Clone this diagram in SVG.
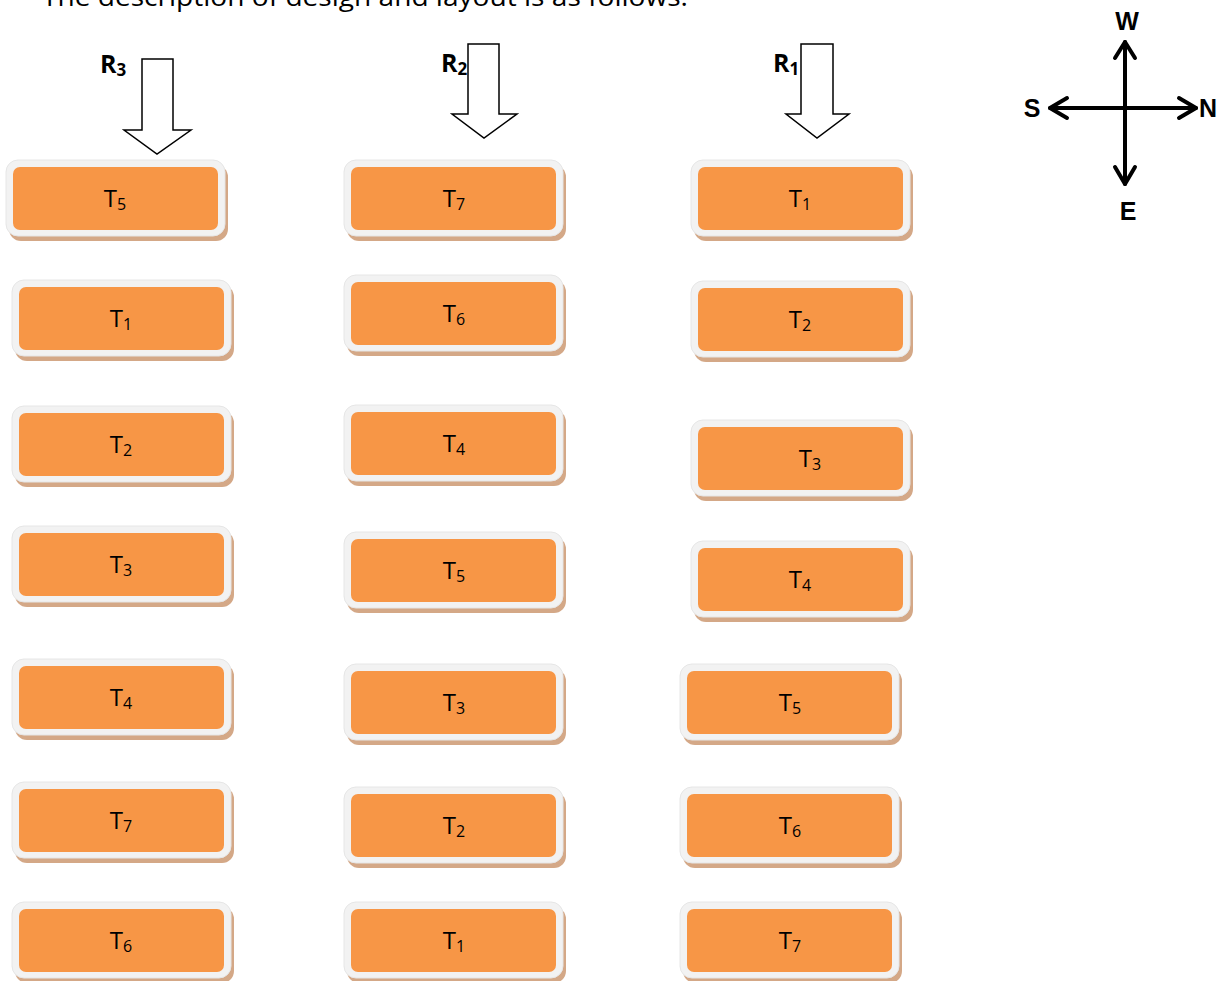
<svg xmlns="http://www.w3.org/2000/svg" width="1226" height="981" viewBox="0 0 1226 981">
<defs>
<style>
.sh{fill:#d4a887}
.out{fill:#f2f2f2;stroke:#e6e6e6;stroke-width:1}
.in{fill:#f79646}
.lbl{font-family:"Open Sans","Liberation Sans",sans-serif;font-size:24px;fill:#000;text-anchor:middle}
.sub{font-size:16px}
.blk{fill:#fff;stroke:#000;stroke-width:1.5;stroke-linejoin:miter}
.rl{font-family:"Open Sans","Liberation Sans",sans-serif;font-weight:bold;font-size:25px;fill:#000}
.rs{font-size:17px}
.cp{fill:none;stroke:#000;stroke-width:4;stroke-linecap:round;stroke-linejoin:round}
.cl{font-family:"Liberation Sans",Arial,sans-serif;font-weight:bold;font-size:25px;fill:#000;text-anchor:middle}
</style>
</defs>
<rect width="1226" height="981" fill="#fff"/>
<text x="42" y="6" font-family="'Open Sans','Liberation Sans',sans-serif" font-size="26" fill="#000" textLength="646" lengthAdjust="spacingAndGlyphs">The description of design and layout is as follows:</text>

<g id="connectors">
<polygon class="blk" points="142,59 173,59 173,130 191,130 157,154 124,130 142,130"/>
<polygon class="blk" points="468,44 499,44 499,114 517,114 484,138 452,114 468,114"/>
<polygon class="blk" points="801,44 833,44 833,114 849,114 817,138 786,114 801,114"/>
</g>
<g id="labels-r">
<text class="rl" x="100" y="73">R<tspan class="rs" dy="3">3</tspan></text>
<text class="rl" x="441" y="72">R<tspan class="rs" dy="3">2</tspan></text>
<text class="rl" x="773" y="72">R<tspan class="rs" dy="3">1</tspan></text>
</g>

<g id="compass">
<path class="cp" d="M1125,42 V184 M1050,108 H1196"/>
<path class="cp" d="M1115,58 L1125,42 L1135,58 M1115,167 L1125,184 L1135,167 M1067,98 L1050,108 L1067,118 M1179,98 L1196,108 L1179,118"/>
<text class="cl" x="1127" y="30">W</text>
<text class="cl" x="1032" y="117">S</text>
<text class="cl" x="1208" y="117">N</text>
<text class="cl" x="1128" y="220">E</text>
</g>

<g id="c1r1"><rect class="sh" x="9" y="165" width="219" height="76" rx="12"/><rect class="out" x="6" y="160" width="219" height="76" rx="12"/><rect class="in" x="13" y="167" width="205" height="63" rx="7"/><text class="lbl" x="115" y="207">T<tspan class="sub" dy="3">5</tspan></text></g>
<g id="c1r2"><rect class="sh" x="15" y="285" width="219" height="76" rx="12"/><rect class="out" x="12" y="280" width="219" height="76" rx="12"/><rect class="in" x="19" y="287" width="205" height="63" rx="7"/><text class="lbl" x="121" y="327">T<tspan class="sub" dy="3">1</tspan></text></g>
<g id="c1r3"><rect class="sh" x="15" y="411" width="219" height="76" rx="12"/><rect class="out" x="12" y="406" width="219" height="76" rx="12"/><rect class="in" x="19" y="413" width="205" height="63" rx="7"/><text class="lbl" x="121" y="453">T<tspan class="sub" dy="3">2</tspan></text></g>
<g id="c1r4"><rect class="sh" x="15" y="531" width="219" height="76" rx="12"/><rect class="out" x="12" y="526" width="219" height="76" rx="12"/><rect class="in" x="19" y="533" width="205" height="63" rx="7"/><text class="lbl" x="121" y="573">T<tspan class="sub" dy="3">3</tspan></text></g>
<g id="c1r5"><rect class="sh" x="15" y="664" width="219" height="76" rx="12"/><rect class="out" x="12" y="659" width="219" height="76" rx="12"/><rect class="in" x="19" y="666" width="205" height="63" rx="7"/><text class="lbl" x="121" y="706">T<tspan class="sub" dy="3">4</tspan></text></g>
<g id="c1r6"><rect class="sh" x="15" y="787" width="219" height="76" rx="12"/><rect class="out" x="12" y="782" width="219" height="76" rx="12"/><rect class="in" x="19" y="789" width="205" height="63" rx="7"/><text class="lbl" x="121" y="829">T<tspan class="sub" dy="3">7</tspan></text></g>
<g id="c1r7"><rect class="sh" x="15" y="907" width="219" height="76" rx="12"/><rect class="out" x="12" y="902" width="219" height="76" rx="12"/><rect class="in" x="19" y="909" width="205" height="63" rx="7"/><text class="lbl" x="121" y="949">T<tspan class="sub" dy="3">6</tspan></text></g>

<g id="c2r1"><rect class="sh" x="347" y="165" width="219" height="76" rx="12"/><rect class="out" x="344" y="160" width="219" height="76" rx="12"/><rect class="in" x="351" y="167" width="205" height="63" rx="7"/><text class="lbl" x="454" y="207">T<tspan class="sub" dy="3">7</tspan></text></g>
<g id="c2r2"><rect class="sh" x="347" y="280" width="219" height="76" rx="12"/><rect class="out" x="344" y="275" width="219" height="76" rx="12"/><rect class="in" x="351" y="282" width="205" height="63" rx="7"/><text class="lbl" x="454" y="322">T<tspan class="sub" dy="3">6</tspan></text></g>
<g id="c2r3"><rect class="sh" x="347" y="410" width="219" height="76" rx="12"/><rect class="out" x="344" y="405" width="219" height="76" rx="12"/><rect class="in" x="351" y="412" width="205" height="63" rx="7"/><text class="lbl" x="454" y="452">T<tspan class="sub" dy="3">4</tspan></text></g>
<g id="c2r4"><rect class="sh" x="347" y="537" width="219" height="76" rx="12"/><rect class="out" x="344" y="532" width="219" height="76" rx="12"/><rect class="in" x="351" y="539" width="205" height="63" rx="7"/><text class="lbl" x="454" y="579">T<tspan class="sub" dy="3">5</tspan></text></g>
<g id="c2r5"><rect class="sh" x="347" y="669" width="219" height="76" rx="12"/><rect class="out" x="344" y="664" width="219" height="76" rx="12"/><rect class="in" x="351" y="671" width="205" height="63" rx="7"/><text class="lbl" x="454" y="711">T<tspan class="sub" dy="3">3</tspan></text></g>
<g id="c2r6"><rect class="sh" x="347" y="792" width="219" height="76" rx="12"/><rect class="out" x="344" y="787" width="219" height="76" rx="12"/><rect class="in" x="351" y="794" width="205" height="63" rx="7"/><text class="lbl" x="454" y="834">T<tspan class="sub" dy="3">2</tspan></text></g>
<g id="c2r7"><rect class="sh" x="347" y="907" width="219" height="76" rx="12"/><rect class="out" x="344" y="902" width="219" height="76" rx="12"/><rect class="in" x="351" y="909" width="205" height="63" rx="7"/><text class="lbl" x="454" y="949">T<tspan class="sub" dy="3">1</tspan></text></g>

<g id="c3r1"><rect class="sh" x="694" y="165" width="219" height="76" rx="12"/><rect class="out" x="691" y="160" width="219" height="76" rx="12"/><rect class="in" x="698" y="167" width="205" height="63" rx="7"/><text class="lbl" x="800" y="207">T<tspan class="sub" dy="3">1</tspan></text></g>
<g id="c3r2"><rect class="sh" x="694" y="286" width="219" height="76" rx="12"/><rect class="out" x="691" y="281" width="219" height="76" rx="12"/><rect class="in" x="698" y="288" width="205" height="63" rx="7"/><text class="lbl" x="800" y="328">T<tspan class="sub" dy="3">2</tspan></text></g>
<g id="c3r3"><rect class="sh" x="694" y="425" width="219" height="76" rx="12"/><rect class="out" x="691" y="420" width="219" height="76" rx="12"/><rect class="in" x="698" y="427" width="205" height="63" rx="7"/><text class="lbl" x="810" y="467">T<tspan class="sub" dy="3">3</tspan></text></g>
<g id="c3r4"><rect class="sh" x="694" y="546" width="219" height="76" rx="12"/><rect class="out" x="691" y="541" width="219" height="76" rx="12"/><rect class="in" x="698" y="548" width="205" height="63" rx="7"/><text class="lbl" x="800" y="588">T<tspan class="sub" dy="3">4</tspan></text></g>
<g id="c3r5"><rect class="sh" x="683" y="669" width="219" height="76" rx="12"/><rect class="out" x="680" y="664" width="219" height="76" rx="12"/><rect class="in" x="687" y="671" width="205" height="63" rx="7"/><text class="lbl" x="790" y="711">T<tspan class="sub" dy="3">5</tspan></text></g>
<g id="c3r6"><rect class="sh" x="683" y="792" width="219" height="76" rx="12"/><rect class="out" x="680" y="787" width="219" height="76" rx="12"/><rect class="in" x="687" y="794" width="205" height="63" rx="7"/><text class="lbl" x="790" y="834">T<tspan class="sub" dy="3">6</tspan></text></g>
<g id="c3r7"><rect class="sh" x="683" y="907" width="219" height="76" rx="12"/><rect class="out" x="680" y="902" width="219" height="76" rx="12"/><rect class="in" x="687" y="909" width="205" height="63" rx="7"/><text class="lbl" x="790" y="949">T<tspan class="sub" dy="3">7</tspan></text></g>
</svg>
